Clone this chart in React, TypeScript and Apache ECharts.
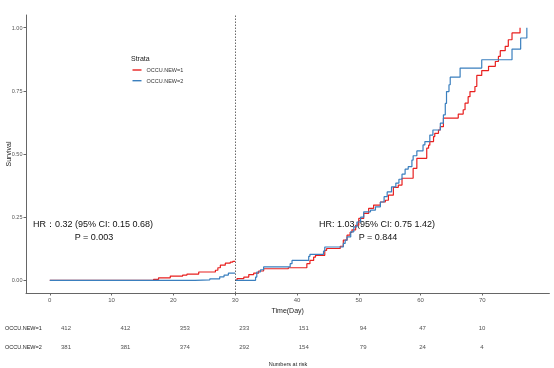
import React, { useEffect, useRef } from 'react';
import * as echarts from 'echarts';

// ---------- data ----------
const strata = ['OCCU.NEW=1', 'OCCU.NEW=2'];
const xTicks = [0, 10, 20, 30, 40, 50, 60, 70];
const yTicks = [0, 0.25, 0.5, 0.75, 1];
const landmark = 30;

// risk table
const riskTimes = [0, 10, 20, 30, 40, 50, 60, 70];
const risk1 = [412, 412, 353, 233, 151, 94, 47, 10];
const risk2 = [381, 381, 374, 292, 154, 79, 24, 4];

// segment 1 (0-30)
const red1Time = [0, 16.8, 17.6, 19.5, 21.5, 22.2, 24.1, 26.8, 27.2, 27.6, 28.4, 29.2, 29.6, 30];
const red1Surv = [0, 0.004, 0.01, 0.017, 0.021, 0.025, 0.033, 0.04, 0.05, 0.06, 0.068, 0.072, 0.075, 0.075];
const blue1Time = [0, 23.5, 25.9, 27.5, 28.2, 28.9, 30];
const blue1Surv = [0, 0.002, 0.006, 0.014, 0.021, 0.029, 0.029];

// segment 2 (30-)
const red2Time = [30, 30.3, 31.4, 32.2, 33.0, 33.8, 34.6, 38.6, 41.6, 42.1, 42.7, 43.0, 44.5, 44.8, 47.0, 47.5, 48.1, 48.6, 48.9, 49.5, 50.0, 50.8, 51.6, 52.4, 53.5, 54.3, 54.8, 55.6, 56.4, 57.0, 58.8, 59.4, 61.0, 61.3, 61.5, 62.1, 62.3, 62.9, 63.2, 63.7, 66.1, 66.9, 67.2, 67.7, 68.0, 68.8, 69.1, 69.9, 71.0, 72.1, 72.6, 72.9, 73.7, 74.2, 74.8, 76.1];
const red2Surv = [0, 0.007, 0.013, 0.023, 0.029, 0.037, 0.046, 0.05, 0.066, 0.079, 0.092, 0.099, 0.119, 0.126, 0.135, 0.159, 0.179, 0.19, 0.2, 0.218, 0.245, 0.265, 0.285, 0.298, 0.31, 0.317, 0.337, 0.368, 0.377, 0.404, 0.443, 0.483, 0.523, 0.535, 0.549, 0.569, 0.582, 0.595, 0.608, 0.642, 0.658, 0.675, 0.701, 0.727, 0.747, 0.767, 0.811, 0.83, 0.847, 0.866, 0.886, 0.909, 0.926, 0.952, 0.979, 1.0];
const blue2Time = [30, 33.3, 33.5, 34.1, 34.6, 38.9, 39.2, 41.9, 42.1, 44.3, 44.5, 47.5, 47.8, 48.1, 48.7, 49.2, 49.7, 50.3, 50.8, 51.9, 52.7, 53.5, 54.1, 54.6, 55.3, 56.0, 56.5, 57.0, 57.5, 58.0, 58.6, 58.8, 59.4, 60.4, 60.7, 61.5, 62.0, 63.2, 63.7, 64.0, 64.2, 64.6, 64.8, 66.4, 69.9, 74.8, 76.2, 77.2];
const blue2Surv = [0, 0.013, 0.033, 0.042, 0.053, 0.066, 0.079, 0.095, 0.103, 0.116, 0.132, 0.146, 0.159, 0.172, 0.192, 0.212, 0.231, 0.25, 0.271, 0.278, 0.291, 0.31, 0.331, 0.35, 0.37, 0.385, 0.4, 0.42, 0.44, 0.45, 0.476, 0.493, 0.512, 0.536, 0.549, 0.575, 0.595, 0.622, 0.655, 0.7, 0.747, 0.774, 0.804, 0.84, 0.873, 0.915, 0.959, 1.0];

const hrText1 = 'HR：0.32 (95% CI: 0.15 0.68)';
const pText1 = 'P = 0.003';
const hrText2 = 'HR: 1.03 (95% CI: 0.75 1.42)';
const pText2 = 'P = 0.844';

const RED = '#E8201F';
const BLUE = '#3A7FBE';
const FONT = '"Liberation Sans", Arial, sans-serif';

const zip = (t: number[], s: number[]) => t.map((v, i) => [v, s[i]]);

export default function App() {
  const ref = useRef<HTMLDivElement>(null);
  useEffect(() => {
    if (!ref.current) return;
    const chart = echarts.init(ref.current, undefined, { renderer: 'svg' });
    const lineSeries = (name: string, color: string, data: number[][], extra: any = {}) => ({
      type: 'line',
      name,
      step: 'end',
      data,
      color,
      showSymbol: false,
      symbol: 'none',
      lineStyle: { color, width: 1.2 },
      xAxisIndex: 0,
      yAxisIndex: 0,
      z: 3,
      ...extra,
    });
    const riskSeries = (name: string, vals: number[]) => ({
      type: 'scatter',
      xAxisIndex: 1,
      yAxisIndex: 1,
      symbolSize: 1,
      itemStyle: { color: 'transparent' },
      data: riskTimes.map((t, i) => [t, name, vals[i]]),
      label: {
        show: true,
        position: 'inside',
        formatter: (p: any) => String(p.value[2]),
        fontSize: 6,
        color: '#222',
        fontFamily: FONT,
      },
    });
    chart.setOption({
      animation: false,
      textStyle: { fontFamily: FONT },
      grid: [
        { left: 26, right: 4.6, top: 15, bottom: 75, containLabel: false, outerBoundsMode: 'none' },
        { left: 66, right: 72, top: 318.5, height: 38, containLabel: false, outerBoundsMode: 'none' },
      ],
      xAxis: [
        {
          type: 'value',
          gridIndex: 0,
          min: -3.85,
          max: 80.85,
          axisLine: { onZero: false, lineStyle: { color: '#666', width: 1 } },
          axisTick: { customValues: xTicks, length: 2.5, lineStyle: { color: '#666' } },
          axisLabel: { customValues: xTicks, fontSize: 6, color: '#555', margin: 3.5 },
          splitLine: { show: false },
          name: 'Time(Day)',
          nameLocation: 'middle',
          nameGap: 12,
          nameTextStyle: { fontSize: 7, color: '#222' },
        },
        { type: 'value', gridIndex: 1, min: 0, max: 70, show: false },
      ],
      yAxis: [
        {
          type: 'value',
          gridIndex: 0,
          min: -0.05,
          max: 1.05,
          axisLine: { show: true, onZero: false, lineStyle: { color: '#666', width: 1 } },
          axisTick: { show: true, customValues: yTicks, length: 2.5, lineStyle: { color: '#666' } },
          axisLabel: { customValues: yTicks, fontSize: 5.5, color: '#555', margin: 3.5, formatter: (v: number) => v.toFixed(2) },
          splitLine: { show: false },
        },
        {
          type: 'category',
          gridIndex: 1,
          data: [strata[1], strata[0]],
          axisLine: { show: false },
          axisTick: { show: false },
          splitLine: { show: false },
          axisLabel: { align: 'left', margin: 61, fontSize: 5.5, color: '#222' },
        },
      ],
      legend: {
        data: strata,
        orient: 'vertical',
        left: 132.5,
        top: 66.5,
        padding: 0,
        icon: 'rect',
        itemWidth: 9,
        itemHeight: 1.4,
        itemGap: 3.7,
        textStyle: { fontSize: 5.5, color: '#333', lineHeight: 7 },
      },
      graphic: [
        { type: 'text', left: 131, top: 55, style: { text: 'Strata', fontSize: 7, fill: '#222', fontFamily: FONT } },
        { type: 'text', x: 8.5, y: 154, rotation: Math.PI / 2, style: { text: 'Survival', x: 0, y: 0, align: 'center', verticalAlign: 'middle', fontSize: 7, fill: '#222', fontFamily: FONT } },
        { type: 'text', style: { text: hrText1, x: 93, y: 224, align: 'center', verticalAlign: 'middle', fontSize: 9, fill: '#111', fontFamily: FONT } },
        { type: 'text', style: { text: pText1, x: 94, y: 237, align: 'center', verticalAlign: 'middle', fontSize: 9, fill: '#111', fontFamily: FONT } },
        { type: 'text', style: { text: hrText2, x: 377, y: 224, align: 'center', verticalAlign: 'middle', fontSize: 9, fill: '#111', fontFamily: FONT } },
        { type: 'text', style: { text: pText2, x: 378, y: 237, align: 'center', verticalAlign: 'middle', fontSize: 9, fill: '#111', fontFamily: FONT } },
        { type: 'text', style: { text: 'Numbers at risk', x: 288, y: 364, align: 'center', verticalAlign: 'middle', fontSize: 5.5, fill: '#222', fontFamily: FONT } },
      ],
      series: [
        lineSeries(strata[0], RED, zip(red1Time, red1Surv), {
          markLine: {
            silent: true,
            symbol: 'none',
            label: { show: false },
            lineStyle: { color: '#444', width: 0.8, type: [1.5, 1.5] },
            data: [{ xAxis: landmark }],
          },
        }),
        lineSeries(strata[1], BLUE, zip(blue1Time, blue1Surv)),
        lineSeries(strata[0], RED, zip(red2Time, red2Surv)),
        lineSeries(strata[1], BLUE, zip(blue2Time, blue2Surv)),
        riskSeries(strata[0], risk1),
        riskSeries(strata[1], risk2),
      ],
    });
    return () => chart.dispose();
  }, []);
  return <div ref={ref} style={{ position: 'fixed', left: 0, top: 0, width: 554, height: 368 }} />;
}
